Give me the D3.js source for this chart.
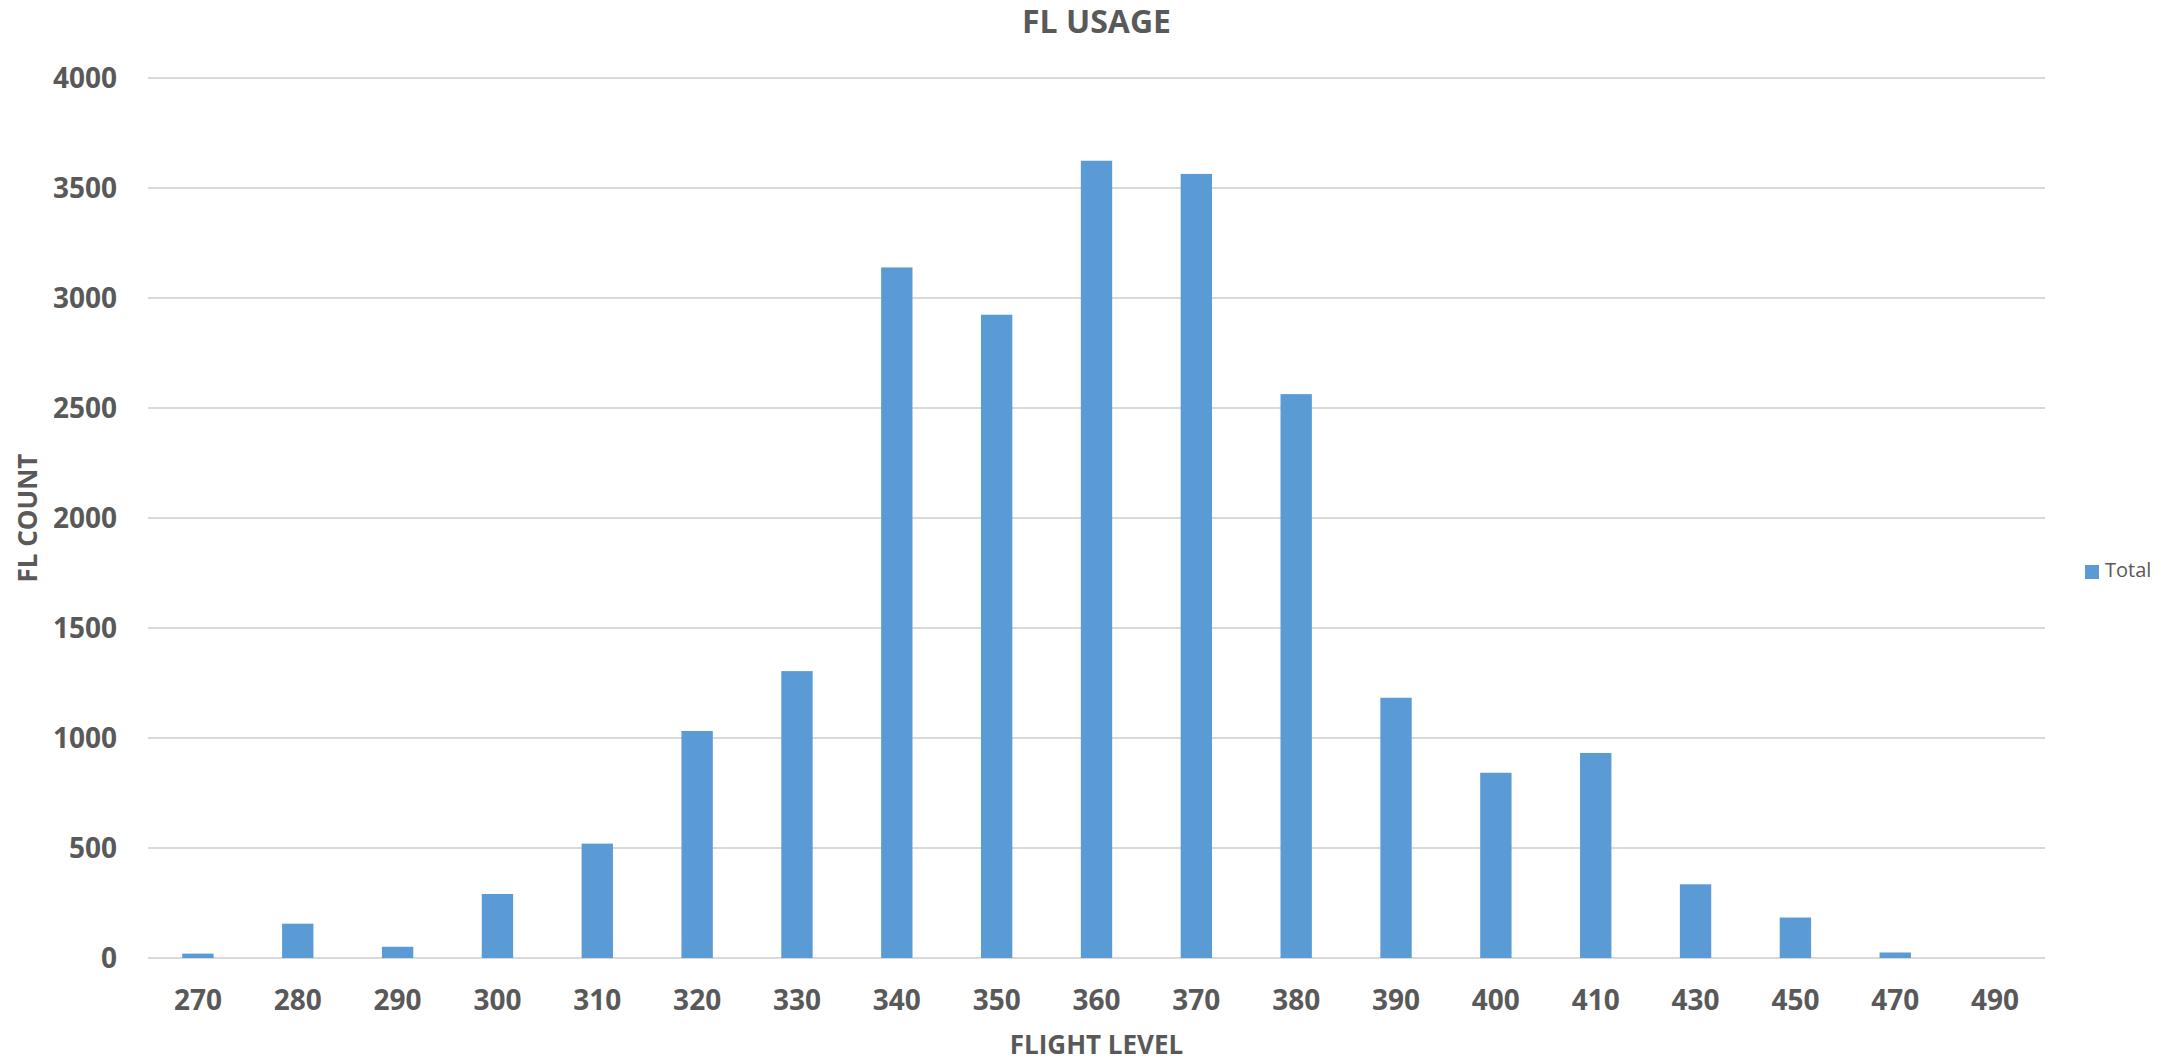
<!DOCTYPE html>
<html>
<head>
<meta charset="utf-8">
<script src="https://cdn.jsdelivr.net/npm/d3@7"></script>
<style>
  body { margin: 0; background: #fff; }
  svg text { font-family: "Open Sans", sans-serif; fill: #595959; }
</style>
</head>
<body>
<div id="root"></div>
<script>
const w = 2178;
const h = 1061;
const margin = { top: 78, bottom: 103, left: 148, right: 133 };

// chart data
const levels = ["270", "280", "290", "300", "310", "320", "330", "340", "350", "360",
    "370", "380", "390", "400", "410", "430", "450", "470", "490"];
const counts = [20, 156, 51, 291, 520, 1032, 1304, 3139, 2924, 3624,
    3564, 2563, 1183, 842, 932, 335, 184, 25, 0];
const yTicks = [0, 500, 1000, 1500, 2000, 2500, 3000, 3500, 4000];
const seriesName = "Total";

const barColor = "#5B9BD5";
const gridColor = "#D9D9D9";

const svg = d3.select("#root")
    .append("svg")
    .attr("width", w)
    .attr("height", h);

// scales
const xScale = d3.scaleBand()
    .domain(levels)
    .range([margin.left, w - margin.right])
    .paddingInner(0.686)
    .paddingOuter(0.343);

const yScale = d3.scaleLinear()
    .domain([0, 4000])
    .range([h - margin.bottom, margin.top]);

// gridlines
svg.append("g")
    .selectAll("line")
    .data(yTicks)
    .enter()
    .append("line")
    .attr("x1", margin.left)
    .attr("x2", w - margin.right)
    .attr("y1", d => yScale(d))
    .attr("y2", d => yScale(d))
    .attr("stroke", gridColor)
    .attr("stroke-width", 2);

// y axis
const yAxis = d3.axisLeft(yScale).tickValues(yTicks).tickFormat(d => d).tickSize(0).tickPadding(31);
const yG = svg.append("g")
    .attr("transform", "translate(" + margin.left + ",0)")
    .call(yAxis);
yG.select(".domain").remove();
yG.selectAll("text")
    .attr("font-size", 28)
    .attr("font-weight", "bold")
    .attr("dy", "0.35em");

// x axis
const xAxis = d3.axisBottom(xScale).tickSize(0).tickPadding(32);
const xG = svg.append("g")
    .attr("transform", "translate(0," + (h - margin.bottom) + ")")
    .call(xAxis);
xG.select(".domain").remove();
xG.selectAll("text")
    .attr("font-size", 28)
    .attr("font-weight", "bold");

// bars
svg.append("g")
    .selectAll("rect")
    .data(counts)
    .enter()
    .append("rect")
    .attr("x", (d, i) => xScale(levels[i]))
    .attr("y", d => yScale(d))
    .attr("width", xScale.bandwidth())
    .attr("height", d => yScale(0) - yScale(d))
    .attr("fill", barColor);

// title
svg.append("text")
    .attr("x", (margin.left + w - margin.right) / 2)
    .attr("y", 33)
    .attr("text-anchor", "middle")
    .attr("font-size", 32)
    .attr("font-weight", "bold")
    .text("FL USAGE");

// axis titles
svg.append("text")
    .attr("x", (margin.left + w - margin.right) / 2)
    .attr("y", 1054)
    .attr("text-anchor", "middle")
    .attr("font-size", 26)
    .attr("font-weight", "bold")
    .text("FLIGHT LEVEL");

svg.append("text")
    .attr("transform", "translate(37," + ((margin.top + h - margin.bottom) / 2) + ") rotate(-90)")
    .attr("text-anchor", "middle")
    .attr("font-size", 26)
    .attr("font-weight", "bold")
    .text("FL COUNT");

// legend
const legend = svg.append("g").attr("transform", "translate(2085,565)");
legend.append("rect")
    .attr("width", 14)
    .attr("height", 14)
    .attr("fill", barColor);
legend.append("text")
    .attr("x", 20)
    .attr("y", 12)
    .attr("font-size", 20)
    .text(seriesName);
</script>
</body>
</html>
